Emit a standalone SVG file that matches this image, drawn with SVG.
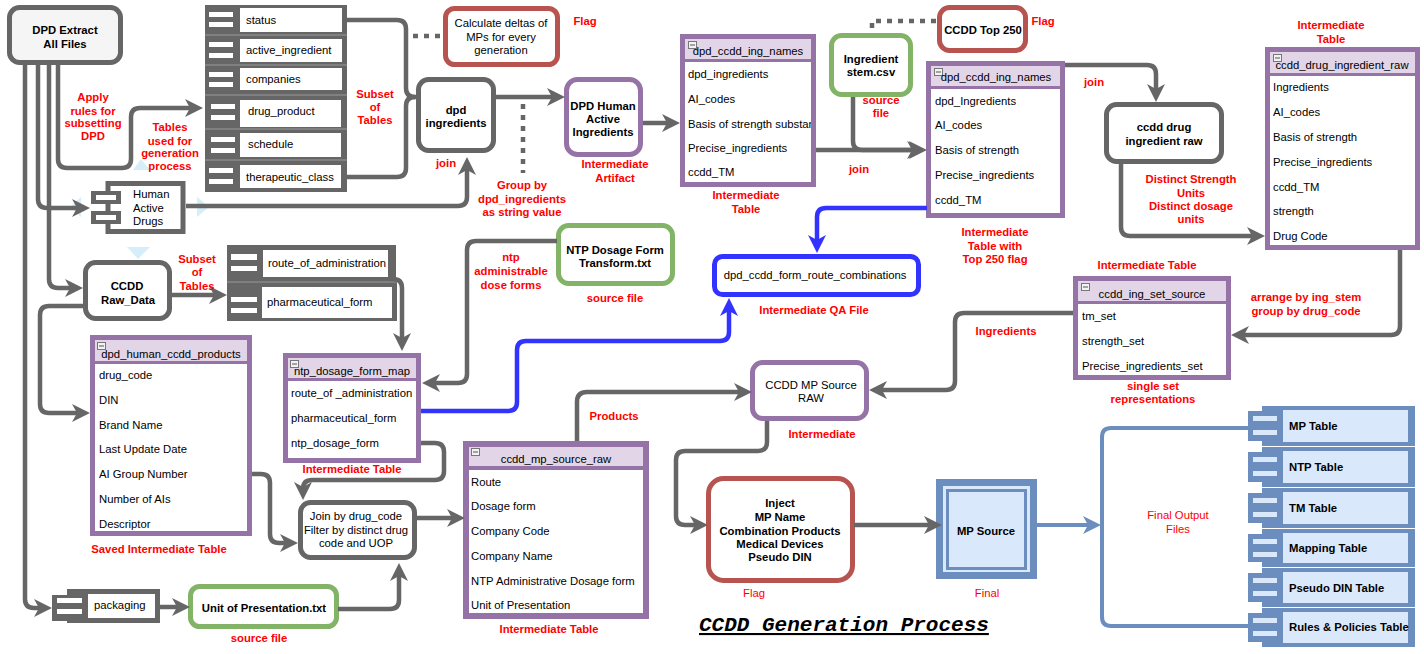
<svg xmlns="http://www.w3.org/2000/svg" width="1424" height="654" viewBox="0 0 1424 654">
<style>
text{font-family:"Liberation Sans",Arial,sans-serif;font-size:11.3px;fill:#000}
.b{font-weight:bold}
.m{text-anchor:middle}
.r{fill:#ff0000;font-weight:bold}
.rn{fill:#ff0000}
.e{fill:none;stroke:#666;stroke-width:4.5}
.ea{marker-end:url(#ag)}
.bl{fill:none;stroke:#3333ff;stroke-width:4.5;marker-end:url(#ab)}
.ob{fill:none;stroke:#6c8ebf;stroke-width:4}
.dt{fill:none;stroke:#666;stroke-width:4.5;stroke-dasharray:5 6}
.g{fill:#fff;stroke:#666;stroke-width:5}
.gl{fill:#f5f5f5;stroke:#666;stroke-width:5}
.rd{fill:#fff;stroke:#b85450;stroke-width:5}
.gr{fill:#fff;stroke:#82b366;stroke-width:5}
.pu{fill:#fff;stroke:#9673a6;stroke-width:5}
.bx{fill:#fff;stroke:#3333ff;stroke-width:5}
.tb{fill:#9673a6}
.th{fill:#e1d5e7}
.tw{fill:#fff}
.ic{fill:#f2f2f2;stroke:#777;stroke-width:1}
.cg{fill:#666}
.cw{fill:#fff}
.sep{stroke:#999;stroke-width:1}
.o1{fill:#6c8ebf}
.o2{fill:#dae8fc}
.tri{fill:#d6eef9}
.title{font-family:"Liberation Mono","Courier New",monospace;font-size:21px;font-weight:bold;font-style:italic;text-decoration:underline}
</style>
<defs>
<marker id="ag" viewBox="0 0 18 18" refX="12" refY="9" markerWidth="18" markerHeight="18" markerUnits="userSpaceOnUse" orient="auto"><path d="M0,0 L18,9 L0,18 L5,9 z" fill="#666"/></marker>
<marker id="ab" viewBox="0 0 18 18" refX="12" refY="9" markerWidth="18" markerHeight="18" markerUnits="userSpaceOnUse" orient="auto"><path d="M0,0 L18,9 L0,18 L5,9 z" fill="#3333ff"/></marker>
<marker id="ao" viewBox="0 0 18 18" refX="12" refY="9" markerWidth="18" markerHeight="18" markerUnits="userSpaceOnUse" orient="auto"><path d="M0,0 L18,9 L0,18 L5,9 z" fill="#6c8ebf"/></marker>
<clipPath id="clipT1"><rect x="685" y="60" width="126" height="124"/></clipPath>
</defs>

<g id="hover-marks">
<polygon class="tri" points="133,170 150,170 141,159"/>
<polygon class="tri" points="197,197 197,217 209,207"/>
<polygon class="tri" points="81,197 81,217 70,207"/>
<polygon class="tri" points="127,247 150,247 138,259"/>
</g>

<g id="dpd-extract">
<rect class="gl" x="9.5" y="7.5" width="111" height="55" rx="10"/>
<text class="b m" x="65" y="34">DPD Extract</text>
<text class="b m" x="65" y="48">All Files</text>
</g>

<g id="dpd-tables">
<rect class="cg" x="205" y="5" width="142" height="187"/>
<line class="sep" x1="205" y1="35" x2="347" y2="35"/>
<line class="sep" x1="205" y1="65" x2="347" y2="65"/>
<line class="sep" x1="205" y1="95" x2="347" y2="95"/>
<line class="sep" x1="205" y1="129" x2="347" y2="129"/>
<line class="sep" x1="205" y1="160" x2="347" y2="160"/>
<rect class="cw" x="240" y="8" width="102" height="24"/>
<rect class="cw" x="240" y="39" width="102" height="23"/>
<rect class="cw" x="240" y="68" width="102" height="22"/>
<rect class="cw" x="240" y="100" width="101" height="27"/>
<rect class="cw" x="240" y="133" width="101" height="24"/>
<rect class="cw" x="240" y="165" width="101" height="23"/>
<rect class="cw" x="209" y="12" width="24" height="5"/><rect class="cw" x="209" y="22" width="24" height="5"/>
<rect class="cw" x="209" y="42" width="24" height="5"/><rect class="cw" x="209" y="53" width="24" height="5"/>
<rect class="cw" x="209" y="72" width="24" height="5"/><rect class="cw" x="209" y="82" width="24" height="5"/>
<rect class="cw" x="211" y="104" width="24" height="5"/><rect class="cw" x="211" y="115" width="24" height="5"/>
<rect class="cw" x="211" y="137" width="24" height="5"/><rect class="cw" x="211" y="148" width="24" height="5"/>
<rect class="cw" x="209" y="168" width="24" height="5"/><rect class="cw" x="209" y="179" width="24" height="5"/>
<text x="246" y="24">status</text>
<text x="246" y="54">active_ingredient</text>
<text x="246" y="83">companies</text>
<text x="248" y="115">drug_product</text>
<text x="248" y="148">schedule</text>
<text x="246" y="181">therapeutic_class</text>
</g>

<g id="human-active-drugs">
<rect class="g" x="108" y="183.5" width="75" height="48"/>
<rect class="cg" x="91" y="191" width="30" height="13"/><rect class="cw" x="96" y="195" width="20" height="5"/>
<rect class="cg" x="91" y="211" width="30" height="13"/><rect class="cw" x="96" y="215" width="20" height="5"/>
<text x="133" y="198">Human</text>
<text x="133" y="212">Active</text>
<text x="133" y="225">Drugs</text>
</g>

<g id="calc-deltas">
<rect class="rd" x="445.5" y="8.5" width="112" height="56" rx="9"/>
<text class="m" x="501" y="27">Calculate deltas of</text>
<text class="m" x="501" y="41">MPs for every</text>
<text class="m" x="501" y="54">generation</text>
</g>

<g id="dpd-ingredients">
<rect class="g" x="418.5" y="79.5" width="75" height="71" rx="10"/>
<text class="b m" x="456" y="114">dpd</text>
<text class="b m" x="456" y="127">ingredients</text>
</g>

<g id="dpd-human-active-ingredients">
<rect class="pu" x="566.5" y="79.5" width="74" height="75" rx="11"/>
<text class="b m" x="603" y="110">DPD Human</text>
<text class="b m" x="603" y="123">Active</text>
<text class="b m" x="603" y="136">Ingredients</text>
</g>

<g id="table-dpd-ccdd-ing-names-1">
<rect class="tb" x="680" y="34" width="136" height="153"/>
<rect class="th" x="685" y="39" width="126" height="20"/>
<rect class="tw" x="685" y="62" width="126" height="120"/>
<rect class="ic" x="688.5" y="41.5" width="8" height="7"/><line x1="690" y1="45" x2="695" y2="45" stroke="#555" stroke-width="1"/>
<text class="m" x="748" y="55">dpd_ccdd_ing_names</text>
<text x="688" y="78">dpd_ingredients</text>
<text x="688" y="103">AI_codes</text>
<text x="688" y="128" clip-path="url(#clipT1)">Basis of strength substance</text>
<text x="688" y="152">Precise_ingredients</text>
<text x="688" y="176">ccdd_TM</text>
</g>

<g id="ingredient-stem">
<rect class="gr" x="831.5" y="35.5" width="79" height="59" rx="10"/>
<text class="b m" x="871" y="63">Ingredient</text>
<text class="b m" x="871" y="76">stem.csv</text>
</g>

<g id="ccdd-top-250">
<rect class="rd" x="939.5" y="7.5" width="86" height="43" rx="10"/>
<text class="b m" x="983" y="34">CCDD Top 250</text>
</g>

<g id="table-dpd-ccdd-ing-names-2">
<rect class="tb" x="926" y="61" width="139" height="157"/>
<rect class="th" x="931" y="66" width="129" height="20"/>
<rect class="tw" x="931" y="89" width="129" height="124"/>
<rect class="ic" x="934.5" y="68.5" width="8" height="7"/><line x1="936" y1="72" x2="941" y2="72" stroke="#555" stroke-width="1"/>
<text class="m" x="996" y="81">dpd_ccdd_ing_names</text>
<text x="935" y="105">dpd_Ingredients</text>
<text x="935" y="129">AI_codes</text>
<text x="935" y="154">Basis of strength</text>
<text x="935" y="179">Precise_ingredients</text>
<text x="935" y="204">ccdd_TM</text>
</g>

<g id="ccdd-drug-ingredient-raw">
<rect class="g" x="1106.5" y="104.5" width="115" height="57" rx="10"/>
<text class="b m" x="1164" y="131">ccdd drug</text>
<text class="b m" x="1164" y="145">ingredient raw</text>
</g>

<g id="table-ccdd-drug-ingredient-raw">
<rect class="tb" x="1265" y="47" width="155" height="203"/>
<rect class="th" x="1270" y="52" width="145" height="21"/>
<rect class="tw" x="1270" y="76" width="145" height="169"/>
<rect class="ic" x="1273.5" y="54.5" width="8" height="7"/><line x1="1275" y1="58" x2="1280" y2="58" stroke="#555" stroke-width="1"/>
<text class="m" x="1342" y="69">ccdd_drug_ingredient_raw</text>
<text x="1273" y="91">Ingredients</text>
<text x="1273" y="116">AI_codes</text>
<text x="1273" y="141">Basis of strength</text>
<text x="1273" y="166">Precise_ingredients</text>
<text x="1273" y="191">ccdd_TM</text>
<text x="1273" y="215">strength</text>
<text x="1273" y="240">Drug Code</text>
</g>

<g id="table-ccdd-ing-set-source">
<rect class="tb" x="1073" y="276" width="158" height="104"/>
<rect class="th" x="1078" y="281" width="148" height="20"/>
<rect class="tw" x="1078" y="304" width="148" height="71"/>
<rect class="ic" x="1081.5" y="283.5" width="8" height="7"/><line x1="1083" y1="287" x2="1088" y2="287" stroke="#555" stroke-width="1"/>
<text class="m" x="1152" y="298">ccdd_ing_set_source</text>
<text x="1082" y="320">tm_set</text>
<text x="1082" y="345">strength_set</text>
<text x="1082" y="370">Precise_ingredients_set</text>
</g>

<g id="form-route-combinations">
<rect class="bx" x="714.5" y="256.5" width="204" height="38" rx="8"/>
<text class="m" x="815" y="279">dpd_ccdd_form_route_combinations</text>
</g>

<g id="ccdd-mp-source-raw-node">
<rect class="pu" x="752.5" y="362.5" width="114" height="56" rx="10"/>
<text class="m" x="811" y="389">CCDD MP Source</text>
<text class="m" x="811" y="402">RAW</text>
</g>

<g id="ccdd-raw-data">
<rect class="g" x="85.5" y="262.5" width="84" height="56" rx="10"/>
<text class="b m" x="127" y="290">CCDD</text>
<text class="b m" x="128" y="304">Raw_Data</text>
</g>

<g id="route-of-administration">
<rect class="cg" x="227" y="245" width="169" height="37"/>
<rect class="cw" x="263" y="250" width="125" height="27"/>
<rect class="cw" x="231" y="254" width="26" height="6"/><rect class="cw" x="231" y="266" width="26" height="5"/>
<text x="268" y="267">route_of_administration</text>
</g>

<g id="pharmaceutical-form">
<rect class="cg" x="227" y="282" width="170" height="39"/>
<line class="sep" x1="227" y1="282" x2="397" y2="282"/>
<rect class="cw" x="262" y="287" width="130" height="31"/>
<rect class="cw" x="231" y="297" width="26" height="5"/><rect class="cw" x="231" y="308" width="26" height="5"/>
<text x="267" y="306">pharmaceutical_form</text>
</g>

<g id="ntp-dosage-form-transform">
<rect class="gr" x="558.5" y="225.5" width="114" height="58" rx="10"/>
<text class="b m" x="615" y="254">NTP Dosage Form</text>
<text class="b m" x="615" y="267">Transform.txt</text>
</g>

<g id="table-dpd-human-ccdd-products">
<rect class="tb" x="90" y="335" width="162" height="201"/>
<rect class="th" x="95" y="340" width="152" height="21"/>
<rect class="tw" x="95" y="364" width="152" height="167"/>
<rect class="ic" x="97.5" y="342.5" width="8" height="7"/><line x1="99" y1="346" x2="104" y2="346" stroke="#555" stroke-width="1"/>
<text class="m" x="171" y="358">dpd_human_ccdd_products</text>
<text x="99" y="379">drug_code</text>
<text x="99" y="404">DIN</text>
<text x="99" y="429">Brand Name</text>
<text x="99" y="453">Last Update Date</text>
<text x="99" y="478">AI Group Number</text>
<text x="99" y="503">Number of AIs</text>
<text x="99" y="528">Descriptor</text>
</g>

<g id="table-ntp-dosage-form-map">
<rect class="tb" x="283" y="353" width="138" height="110"/>
<rect class="th" x="288" y="358" width="128" height="20"/>
<rect class="tw" x="288" y="381" width="128" height="77"/>
<rect class="ic" x="290.5" y="360.5" width="8" height="7"/><line x1="292" y1="364" x2="297" y2="364" stroke="#555" stroke-width="1"/>
<text class="m" x="352" y="375">ntp_dosage_form_map</text>
<text x="291" y="397">route_of _administration</text>
<text x="291" y="422">pharmaceutical_form</text>
<text x="291" y="447">ntp_dosage_form</text>
</g>

<g id="join-by-drug-code">
<rect class="g" x="300.5" y="502.5" width="114" height="55" rx="10"/>
<text class="m" x="356" y="520">Join by drug_code</text>
<text class="m" x="356" y="534">Filter by distinct drug</text>
<text class="m" x="356" y="547">code and UOP</text>
</g>

<g id="table-ccdd-mp-source-raw">
<rect class="tb" x="463" y="441" width="186" height="178"/>
<rect class="th" x="469" y="447" width="174" height="19"/>
<rect class="tw" x="469" y="470" width="174" height="143"/>
<rect class="ic" x="471.5" y="448.5" width="8" height="7"/><line x1="473" y1="452" x2="478" y2="452" stroke="#555" stroke-width="1"/>
<text class="m" x="556" y="463">ccdd_mp_source_raw</text>
<text x="471" y="486">Route</text>
<text x="471" y="510">Dosage form</text>
<text x="471" y="535">Company Code</text>
<text x="471" y="560">Company Name</text>
<text x="471" y="585">NTP Administrative Dosage form</text>
<text x="471" y="609">Unit of Presentation</text>
</g>

<g id="packaging">
<rect class="cg" x="67" y="589" width="93" height="34"/>
<rect class="cg" x="52" y="595" width="36" height="26"/>
<rect class="cw" x="88" y="594" width="67" height="24"/>
<rect class="cw" x="57" y="598" width="25" height="5"/><rect class="cw" x="57" y="609" width="25" height="5"/>
<text x="94" y="609">packaging</text>
</g>

<g id="unit-of-presentation">
<rect class="gr" x="190.5" y="586.5" width="146" height="40" rx="9"/>
<text class="b m" x="264" y="612">Unit of Presentation.txt</text>
</g>

<g id="inject">
<rect class="rd" x="708.5" y="478.5" width="144" height="102" rx="15"/>
<text class="b m" x="780" y="507">Inject</text>
<text class="b m" x="780" y="521">MP Name</text>
<text class="b m" x="780" y="535">Combination Products</text>
<text class="b m" x="780" y="548">Medical Devices</text>
<text class="b m" x="780" y="561">Pseudo DIN</text>
</g>

<g id="mp-source">
<rect class="o1" x="936" y="479" width="101" height="100"/>
<rect class="o2" x="943" y="486" width="87" height="86"/>
<rect class="o1" x="946" y="489" width="81" height="81"/>
<rect class="o2" x="949" y="492" width="75" height="75"/>
<text class="b m" x="986" y="535">MP Source</text>
</g>

<g id="output-tables">
<rect class="o1" x="1262" y="406" width="153" height="40"/><rect class="o2" x="1283" y="410" width="125" height="32"/><rect class="o1" x="1248" y="411" width="34" height="30"/><rect class="o2" x="1253" y="416" width="24" height="5"/><rect class="o2" x="1253" y="430" width="24" height="5"/>
<rect class="o1" x="1262" y="447" width="153" height="40"/><rect class="o2" x="1283" y="451" width="125" height="32"/><rect class="o1" x="1248" y="452" width="34" height="30"/><rect class="o2" x="1253" y="457" width="24" height="5"/><rect class="o2" x="1253" y="471" width="24" height="5"/>
<rect class="o1" x="1262" y="488" width="153" height="40"/><rect class="o2" x="1283" y="492" width="125" height="32"/><rect class="o1" x="1248" y="493" width="34" height="30"/><rect class="o2" x="1253" y="498" width="24" height="5"/><rect class="o2" x="1253" y="512" width="24" height="5"/>
<rect class="o1" x="1262" y="529" width="153" height="38"/><rect class="o2" x="1283" y="533" width="125" height="30"/><rect class="o1" x="1248" y="534" width="34" height="28"/><rect class="o2" x="1253" y="539" width="24" height="5"/><rect class="o2" x="1253" y="552" width="24" height="5"/>
<rect class="o1" x="1262" y="568" width="153" height="39"/><rect class="o2" x="1283" y="572" width="125" height="31"/><rect class="o1" x="1248" y="573" width="34" height="29"/><rect class="o2" x="1253" y="578" width="24" height="5"/><rect class="o2" x="1253" y="591" width="24" height="5"/>
<rect class="o1" x="1262" y="608" width="153" height="39"/><rect class="o2" x="1283" y="612" width="125" height="31"/><rect class="o1" x="1248" y="613" width="34" height="29"/><rect class="o2" x="1253" y="618" width="24" height="5"/><rect class="o2" x="1253" y="631" width="24" height="5"/>
<text class="b" x="1289" y="430">MP Table</text>
<text class="b" x="1289" y="471">NTP Table</text>
<text class="b" x="1289" y="512">TM Table</text>
<text class="b" x="1289" y="552">Mapping Table</text>
<text class="b" x="1289" y="592">Pseudo DIN Table</text>
<text class="b" x="1289" y="631">Rules &amp; Policies Table</text>
</g>

<g id="connectors">
<path class="e ea" d="M25,65 V599 Q25,608 34,608 H46"/>
<path class="e ea" d="M38,65 V199 Q38,208 47,208 H84"/>
<path class="e ea" d="M49,65 V279 Q49,288 58,288 H77"/>
<path class="e ea" d="M58,65 V159 Q58,168 67,168 H122 Q131,168 131,159 V117 Q131,108 140,108 H197"/>
<path class="e ea" d="M186,206 H458 Q467,206 467,197 V163"/>
<path class="e" d="M346,20 H397 Q406,20 406,29 V88 Q406,97 415,97 H418"/>
<path class="e" d="M346,177 H397 Q406,177 406,168 V106 Q406,97 415,97"/>
<path class="e ea" d="M496,97 H559"/>
<path class="dt" d="M413,36 H443"/>
<path class="dt" d="M523,104 V173"/>
<path class="e ea" d="M643,123 H674"/>
<path class="e ea" d="M816,150 H921"/>
<path class="e ea" d="M853,97 V141 Q853,150 862,150 H919"/>
<path class="dt" d="M936,21 H872 V34"/>
<path class="e ea" d="M1065,65 H1147 Q1156,65 1156,74 V96"/>
<path class="e ea" d="M1121,164 V227 Q1121,236 1130,236 H1259"/>
<path class="e ea" d="M1400,250 V326 Q1400,335 1391,335 H1237"/>
<path class="e ea" d="M1073,313 H964 Q955,313 955,322 V381 Q955,390 946,390 H875"/>
<path class="e ea" d="M577,441 V402 Q577,392 587,392 H746"/>
<path class="e ea" d="M767,421 V442 Q767,451 758,451 H685 Q676,451 676,460 V516 Q676,525 685,525 H702"/>
<path class="e ea" d="M854,525 H936"/>
<path class="e ea" d="M172,295 H221"/>
<path class="e ea" d="M84,306 H49 Q40,306 40,315 V404 Q40,413 49,413 H84"/>
<path class="e ea" d="M390,279 H393 Q402,279 402,288 V345"/>
<path class="e ea" d="M557,241 H476 Q467,241 467,250 V374 Q467,383 458,383 H428"/>
<path class="e ea" d="M252,474 H261 Q270,474 270,483 V534 Q270,543 279,543 H292"/>
<path class="e ea" d="M421,443 H435 Q444,443 444,452 V471 Q444,480 435,480 H312 Q303,480 303,489 V494"/>
<path class="e ea" d="M338,609 H390 Q399,609 399,600 V569"/>
<path class="e ea" d="M416,518 H459"/>
<path class="e ea" d="M160,607 H184"/>
<path class="bl" d="M927,208 H826 Q817,208 817,217 V247"/>
<path class="bl" d="M421,411 H508 Q517,411 517,402 V350 Q517,341 526,341 H720 Q729,341 729,332 V304"/>
<path class="ob" style="marker-end:url(#ao)" d="M1037,525 H1095"/>
<path class="ob" d="M1248,428 H1111 Q1102,428 1102,437 V617 Q1102,626 1111,626 H1248"/>
</g>

<g id="labels">
<text class="r m" x="93" y="101">Apply</text>
<text class="r m" x="93" y="115">rules for</text>
<text class="r m" x="93" y="127">subsetting</text>
<text class="r m" x="93" y="140">DPD</text>
<text class="r m" x="170" y="131">Tables</text>
<text class="r m" x="170" y="145">used for</text>
<text class="r m" x="170" y="157">generation</text>
<text class="r m" x="170" y="170">process</text>
<text class="r m" x="375" y="98">Subset</text>
<text class="r m" x="375" y="111">of</text>
<text class="r m" x="375" y="124">Tables</text>
<text class="r m" x="585" y="25">Flag</text>
<text class="r m" x="446" y="167">join</text>
<text class="r m" x="522" y="189">Group by</text>
<text class="r m" x="522" y="203">dpd_ingredients</text>
<text class="r m" x="522" y="216">as string value</text>
<text class="r m" x="615" y="168">Intermediate</text>
<text class="r m" x="615" y="182">Artifact</text>
<text class="r m" x="746" y="199">Intermediate</text>
<text class="r m" x="746" y="213">Table</text>
<text class="r m" x="881" y="104">source</text>
<text class="r m" x="881" y="117">file</text>
<text class="r m" x="859" y="173">join</text>
<text class="r m" x="1043" y="25">Flag</text>
<text class="r m" x="995" y="236">Intermediate</text>
<text class="r m" x="995" y="250">Table with</text>
<text class="r m" x="995" y="263">Top 250 flag</text>
<text class="r m" x="1094" y="86">join</text>
<text class="r m" x="1331" y="29">Intermediate</text>
<text class="r m" x="1331" y="43">Table</text>
<text class="r m" x="1191" y="183">Distinct Strength</text>
<text class="r m" x="1191" y="197">Units</text>
<text class="r m" x="1191" y="210">Distinct dosage</text>
<text class="r m" x="1191" y="223">units</text>
<text class="r m" x="1147" y="269">Intermediate Table</text>
<text class="r m" x="1306" y="301">arrange by ing_stem</text>
<text class="r m" x="1306" y="315">group by drug_code</text>
<text class="r m" x="1153" y="390">single set</text>
<text class="r m" x="1153" y="403">representations</text>
<text class="r m" x="1006" y="335">Ingredients</text>
<text class="r m" x="822" y="438">Intermediate</text>
<text class="r m" x="814" y="314">Intermediate QA File</text>
<text class="r m" x="615" y="302">source file</text>
<text class="r m" x="511" y="261">ntp</text>
<text class="r m" x="511" y="275">administrable</text>
<text class="r m" x="511" y="289">dose forms</text>
<text class="r m" x="614" y="420">Products</text>
<text class="r m" x="197" y="263">Subset</text>
<text class="r m" x="197" y="276">of</text>
<text class="r m" x="197" y="290">Tables</text>
<text class="r m" x="159" y="553">Saved Intermediate Table</text>
<text class="r m" x="352" y="473">Intermediate Table</text>
<text class="r m" x="549" y="633">Intermediate Table</text>
<text class="r m" x="259" y="642">source file</text>
<text class="rn m" x="754" y="597">Flag</text>
<text class="rn m" x="987" y="597">Final</text>
<text class="rn m" x="1178" y="519">Final Output</text>
<text class="rn m" x="1178" y="533">Files</text>
<text class="title" x="699" y="631">CCDD Generation Process</text>
</g>
</svg>
